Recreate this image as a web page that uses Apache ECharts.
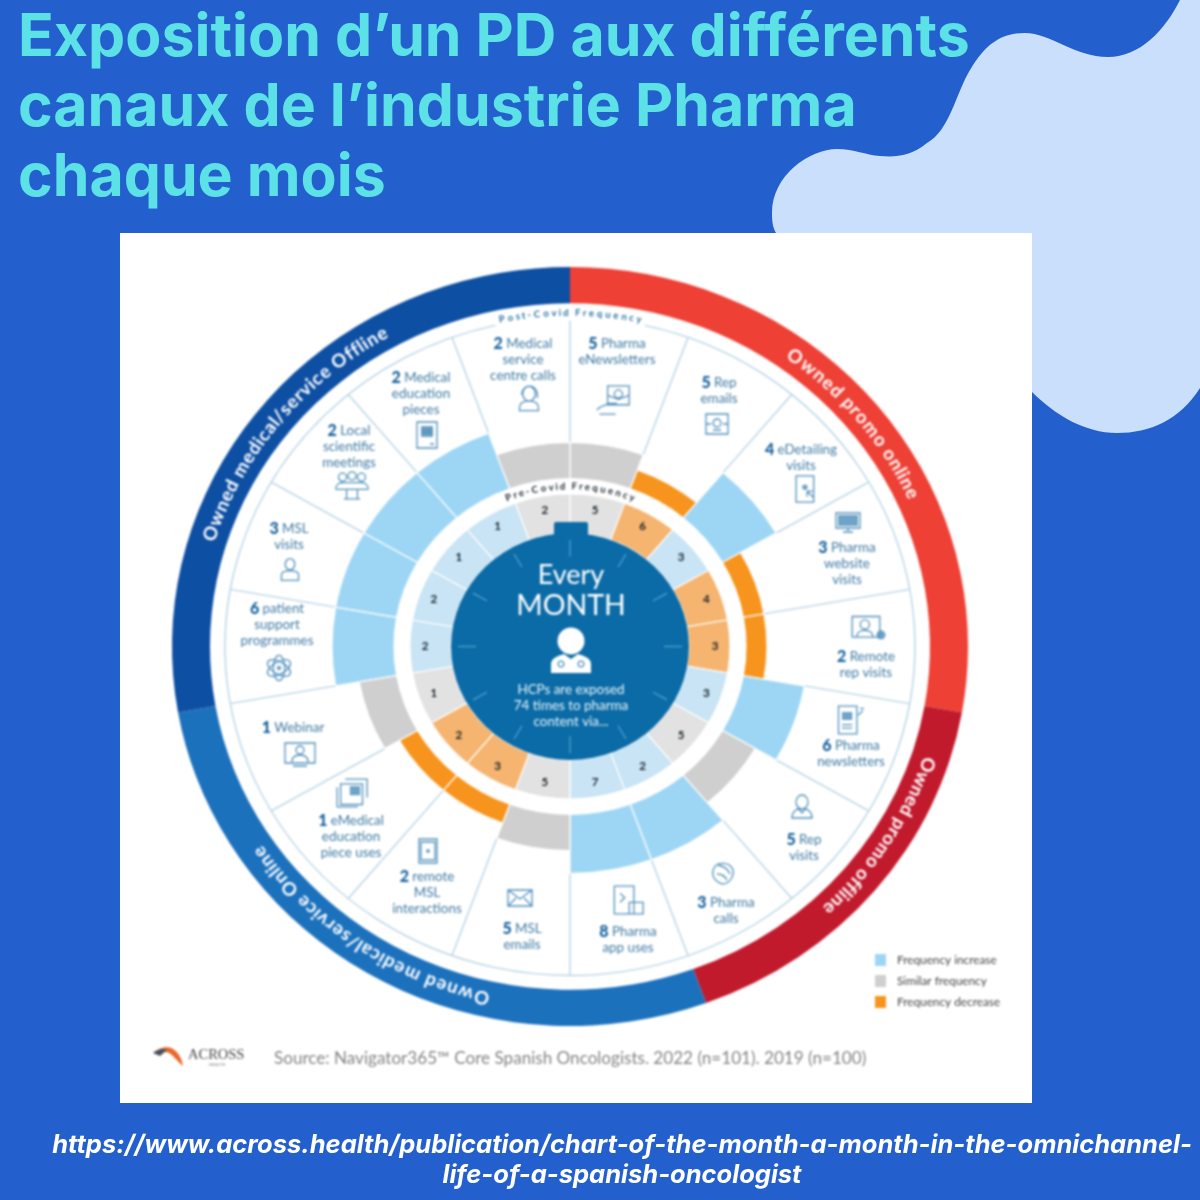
<!DOCTYPE html>
<html><head><meta charset="utf-8">
<style>html,body{margin:0;padding:0;background:#2360cd}#w{position:relative;width:1200px;height:1200px}
#base,#c{position:absolute;left:0;top:0;width:1200px;height:1200px}#c{filter:blur(0.8px)}</style>
<script src="https://cdn.jsdelivr.net/npm/echarts@6/dist/echarts.min.js"></script>
</head><body><div id="w"><div id="base"></div><div id="c"></div></div>
<script>
// ---------- data ----------
const channelLines = [
 ['Pharma','eNewsletters'],['Rep','emails'],['eDetailing','visits'],['Pharma','website','visits'],
 ['Remote','rep visits'],['Pharma','newsletters'],['Rep','visits'],['Pharma','calls'],['Pharma','app uses'],
 ['MSL','emails'],['remote','MSL','interactions'],['eMedical','education','piece uses'],['Webinar'],
 ['patient','support','programmes'],['MSL','visits'],['Local','scientific','meetings'],['Medical','education','pieces'],
 ['Medical','service','centre calls']];
const preValues  = [5,6,3,4,3,3,5,2,7,5,3,2,1,2,2,1,1,2];
const postValues = [5,5,4,3,2,6,5,3,8,5,2,1,1,6,3,2,2,2];
const groupNames = ['Owned promo online','Owned promo offline','Owned medical/service Online','Owned medical/service Offline'];
const groupStart = [0,100,160,260];
const groupEnd   = [100,160,260,360];
const statusNames = ['Frequency increase','Similar frequency','Frequency decrease'];
const titleText = 'Exposition d\u2019un PD aux différents\ncanaux de l\u2019industrie Pharma\nchaque mois';
const linkText = 'https://www.across.health/publication/chart-of-the-month-a-month-in-the-omnichannel-\nlife-of-a-spanish-oncologist';
const centerLines = ['HCPs are exposed','74 times to pharma','content via...'];
const sourceText = 'Source: Navigator365\u2122 Core Spanish Oncologists. 2022 (n=101). 2019 (n=100)';

// ---------- styling / layout ----------
const CX=570, CY=646.5, RMAX=398, K=0.9535, STEP=20;
const groupColor=['#ee4035','#c11a2d','#1c71bd','#0d4fa3'];
const statusColor=['#9dd6f4','#cfcfcf','#f7941d'];
const statusInner=['#c8e4f5','#e2e2e2','#f5b46f'];
const statusTop=[238,214,197];
const R_IN=176, R_PRE0=119, R_PRE1=160, R_ARC=345;
const status=i=>postValues[i]>preValues[i]?0:postValues[i]===preValues[i]?1:2;
const idx=channelLines.map((_,i)=>i);

const textAnchor=[[617,344],[719,383],[801,450],[847,548],[866,657],[851,746],[804,840],[726,903],[628,932],
 [522,929],[427,877],[351,821],[293,728],[277,609],[289,529],[349,431],[421,378],[523,344]];
const iconAnchor=[[613,398],[717,424],[806,489],[848,524],[866,628],[850,720],[802,806],[722,874],[627,900],
 [520,899],[428,851],[351,793],[297,755],[279,668],[290,569],[352,488],[427,434],[529,398]];
const iconScale=[1.35,1,1.1,1,1.15,1.15,1,1,1.15,1,1,1.15,1,1.15,.95,1.35,1,1.05];
const icons=[
 {s:'M8 3H24V17H8Z M16 6a3 3 0 1 0 .01 0 M8 10l8 3 8-3 M0 21c3-4 6-3 9-5h6 M2 24h12'},
 {s:'M1 2H23V22H1Z M1 12h5 M18 12h5 M12 7a4 4 0 1 0 .01 0 M8 18h8'},
 {s:'M3 0H19V24H3Z M13 14l6 6 M13 14v5 M13 14h5',f:'M11 8a2.5 2.5 0 1 0 .01 0'},
 {s:'M0 1H24V16H0Z M12 16v3 M7 20H17',f:'M2 3H22V14H2Z'},
 {s:'M0 2H24V20H0Z M11 5a4 4 0 1 0 .01 0 M4 20c0-5 3-6 7-6s7 1 7 6',f:'M25 14a4 4 0 1 0 .01 0'},
 {s:'M2 0H18V24H2Z M5 16H14 M5 19H14 M19 8l4-4 M21 2l3 0',f:'M5 5H14V12H5Z'},
 {s:'M12 1a6 7 0 1 0 .01 0 M2 24c0-7 5-9 7-9l3 4 3-4c2 0 7 2 7 9Z'},
 {s:'M4 6C8-1 20 0 23 8 24 14 20 22 12 22 6 20 0 14 4 6Z M7 12c4 0 8 2 10 6 M8 3c5 1 10 4 12 9'},
 {s:'M1 0H18V24H1Z M14 14H26V24H14Z M6 6l4 4-4 4'},
 {s:'M0 3H24V19H0Z M0 3l12 9 12-9 M0 19l8-8 M24 19l-8-8'},
 {s:'M3 0H21V24H3Z M5 3H19V21H5Z',f:'M12 10a2 2 0 1 0 .01 0'},
 {s:'M3 4H22V22H3Z M0 7V24H18 M7 0H26V16',f:'M11 6H20V14H11Z'},
 {s:'M0 0H30V20H0Z M15 3a4 4 0 1 0 .01 0 M7 19c0-5 3-7 8-7s8 2 8 7 M8 23h14'},
 {s:'M2.5 6.5A11 5 30 1 1 21.5 17.5A11 5 30 1 1 2.5 6.5Z M2.5 17.5A11 5 -30 1 1 21.5 6.5A11 5 -30 1 1 2.5 17.5Z M12 1A11 5 90 1 1 12 23A11 5 90 1 1 12 1Z',f:'M12 10a2 2 0 1 0 .01 0'},
 {s:'M12 1a5 6 0 1 0 .01 0 M3 24V18c0-3 4-4 9-4s9 1 9 4v6Z'},
 {s:'M5 1a3 3 0 1 0 .01 0 M12 0a3 3 0 1 0 .01 0 M19 1a3 3 0 1 0 .01 0 M0 13c0-4 3-5 5-5h14c2 0 5 1 5 5 M0 13H24 M8 13V20H16V13 M6 20H18'},
 {s:'M2 0H22V26H2Z M6 8H18 M6 11H18 M15 22h4',f:'M6 4H18V15H6Z'},
 {s:'M3 24v-3c0-5 4-6 9-6s9 1 9 6v3Z M12 1a6 7 0 1 0 .01 0 M5 9c0-11 15-11 15 0 M20 7v5'}
];
const FONT='Lato';
const measure=document.createElement('canvas').getContext('2d');

function ell(a,r){const t=a*Math.PI/180;return [CX+r*Math.sin(t),CY-K*r*Math.cos(t)];}
function arcText(str,a0,a1,r,font,color){
  measure.font=font;
  const w=[...str].map(c=>measure.measureText(c).width);
  const tot=w.reduce((x,y)=>x+y,0);let run=0;
  return [...str].map((ch,i)=>{
    const f=(run+w[i]/2)/tot;run+=w[i];
    const a=a0+(a1-a0)*f,p=ell(a,r);
    return {type:'text',x:p[0],y:p[1],rotation:-a*Math.PI/180,
      style:{text:ch,font,fill:color,align:'center',verticalAlign:'middle'}};
  });
}
// Sector through the polar scales, squeezed into the reference's ellipse
function sector(params,api,a0,a1,v0,v1,style){
  const cs=params.coordSys,p0=api.coord([v0,a0]),p1=api.coord([v1,a0]);
  const start=Math.atan2(p1[1]-cs.cy,p1[0]-cs.cx);
  return {type:'sector',originX:cs.cx,originY:cs.cy,scaleY:K,
    shape:{cx:cs.cx,cy:cs.cy,r0:Math.hypot(p0[0]-cs.cx,p0[1]-cs.cy),r:Math.hypot(p1[0]-cs.cx,p1[1]-cs.cy),
      startAngle:start,endAngle:start+(a1-a0)*Math.PI/180,clockwise:true},style};
}
function sq(p){return [p[0],CY+(p[1]-CY)*K];}
const polarBase={coordinateSystem:'polar',polarIndex:0,silent:true,animation:false,clip:false};

const decor={type:'custom',coordinateSystem:'none',silent:true,animation:false,z:1,data:[0],
 renderItem(){return {type:'group',children:[
  {type:'path',shape:{pathData:'M1180 0C1165 30 1140 57 1108 57C1075 57 1050 33 1025 33C1000 33 985 45 970 70C955 95 950 130 927 143C910 157 895 157 880 156C865 155 855 149 837 149C810 149 772 175 772 213C772 222 773 228 776 233L776 240L1032 240L1032 392C1055 415 1085 433 1117 433C1150 433 1180 420 1200 388L1200 0Z'},style:{fill:'#c9dffc'}},
  {type:'rect',shape:{x:120,y:233,width:912,height:870},style:{fill:'#fff'}}
 ]};}};

const ringSeries={...polarBase,type:'custom',name:'groups',z:2,encode:{angle:0,radius:1},
 data:groupNames.map((n,i)=>[groupStart[i],RMAX,groupEnd[i],i]),
 renderItem(params,api){const i=api.value(3);
  return sector(params,api,api.value(0),api.value(2),360,RMAX,{fill:groupColor[i]});}};

const statusSeries=statusNames.map((name,st)=>({...polarBase,type:'custom',name,z:3,
 itemStyle:{color:statusColor[st]},encode:{angle:0,radius:1},
 data:idx.filter(i=>status(i)===st).map(i=>[i*STEP,statusTop[st]]),
 renderItem(params,api){const a=api.value(0);
  return sector(params,api,a,a+STEP,R_IN,api.value(1),{fill:statusColor[st],stroke:'#fff',lineWidth:1.2});}}));

const preSeries={...polarBase,type:'custom',name:'pre',z:3,encode:{angle:0,radius:1},
 data:idx.map(i=>[i*STEP,R_PRE1,preValues[i],status(i)]),
 renderItem(params,api){const a=api.value(0),st=api.value(3),p=sq(api.coord([145,a+STEP/2]));
  return {type:'group',children:[
   sector(params,api,a,a+STEP,R_PRE0,api.value(1),{fill:statusInner[st],stroke:'#fff',lineWidth:1.2}),
   {type:'text',x:p[0],y:p[1],z2:5,style:{text:String(api.value(2)),font:'bold 11.5px '+FONT,fill:'#141f27',align:'center',verticalAlign:'middle'}}
  ]};}};

const spokeSeries={...polarBase,type:'custom',name:'spokes',z:2,encode:{angle:0,radius:1},
 data:idx.map(i=>[i*STEP,Math.max(statusTop[status(i)],statusTop[status((i+17)%18)])]),
 renderItem(params,api){const a=api.value(0),p0=sq(api.coord([api.value(1),a])),p1=sq(api.coord([a===0?342:R_ARC,a]));
  return {type:'line',shape:{x1:p0[0],y1:p0[1],x2:p1[0],y2:p1[1]},style:{stroke:'#b6d3e5',lineWidth:1.4}};}};

const outerArc={type:'custom',coordinateSystem:'none',silent:true,animation:false,z:2,data:[0],
 renderItem(){const s=(-90+12.5)*Math.PI/180,e=(270-12.5)*Math.PI/180;
  return {type:'arc',originX:CX,originY:CY,scaleY:K,shape:{cx:CX,cy:CY,r:R_ARC,startAngle:s,endAngle:e,clockwise:true},
   style:{stroke:'#b6d3e5',lineWidth:1.4,fill:'none'}};}};

const labelSeries={type:'custom',coordinateSystem:'none',silent:true,animation:false,z:4,data:idx.map(i=>[i]),
 renderItem(params,api){const i=api.value(0),L=channelLines[i],A=textAnchor[i],I=iconAnchor[i],ic=icons[i],s=iconScale[i];
  const ch=L.map((t,j)=>({type:'text',x:A[0],y:A[1]+j*16,style:{
    text:j===0?'{n|'+postValues[i]+'} {t|'+t+'}':'{t|'+t+'}',
    align:'center',verticalAlign:'middle',
    rich:{n:{fontFamily:FONT,fontWeight:900,fontSize:16,fill:'#145f9c'},
          t:{fontFamily:FONT,fontSize:13.4,fill:'#3f7aa3'}}}}));
  const g={type:'group',x:I[0]-12*s,y:I[1]-12*s,scaleX:s,scaleY:s,children:[]};
  if(ic.f) g.children.push({type:'path',shape:{pathData:ic.f},style:{fill:'#6fa3c7'}});
  g.children.push({type:'path',shape:{pathData:ic.s},style:{fill:'none',stroke:'#5190ba',lineWidth:1.3/s}});
  ch.push(g);
  return {type:'group',children:ch};}};

const clockSeries={...polarBase,type:'custom',name:'center',z:4,encode:{angle:0,radius:1},
 data:[[0,R_PRE0]],
 renderItem(params,api){const kids=[
   sector(params,api,0,360,0,api.value(1),{fill:'#0b6ba6'}),
   {type:'rect',shape:{x:554,y:522,width:34,height:16,r:[2,2,0,0]},style:{fill:'#0b6ba6'}}];
  for(let a=0;a<360;a+=30){const p0=sq(api.coord([a%90===0?94:96,a])),p1=sq(api.coord([112,a]));
   kids.push({type:'line',shape:{x1:p0[0],y1:p0[1],x2:p1[0],y2:p1[1]},style:{stroke:'#4ea3d1',lineWidth:1.3}});}
  return {type:'group',children:kids};}};

const centerText={type:'custom',coordinateSystem:'none',silent:true,animation:false,z:5,data:[0],
 renderItem(){
  const T=(text,x,y,size,color)=>({type:'text',x,y,style:{text,font:size+'px '+FONT,fill:color,align:'center',verticalAlign:'middle'}});
  const kids=[T('Every',571,575,27,'#ffffff'),T('MONTH',571,606,28.5,'#ffffff'),
   {type:'circle',shape:{cx:571,cy:641,r:13.5},style:{fill:'#fff'}},
   {type:'path',shape:{pathData:'M551 673V664C551 658 558 656 564 654L571 659L578 654C584 656 591 658 591 664V673Z'},style:{fill:'#fff'}},
   {type:'circle',shape:{cx:561,cy:664,r:3},style:{fill:'none',stroke:'#0b6ba6',lineWidth:1}},
   {type:'circle',shape:{cx:581,cy:664,r:3},style:{fill:'none',stroke:'#0b6ba6',lineWidth:1}}];
  centerLines.forEach((t,i)=>kids.push(T(t,571,690+i*16,13.4,'#eaf6fc')));
  kids.push(...arcText('Post-Covid Frequency',-12,12,350,'bold 9.5px '+FONT,'#1f6f9f'));
  kids.push(...arcText('Pre-Covid Frequency',-23,23,168,'bold 9.5px '+FONT,'#141f27'));
  const ringFont='bold 18.5px '+FONT;
  kids.push(...arcText(groupNames[0],35.2,65.7,378,ringFont,'#ffffff'));
  kids.push(...arcText(groupNames[1],107.9,137.4,378,ringFont,'#ffffff'));
  kids.push(...arcText(groupNames[2],192.2,236,378,ringFont,'#ffffff'));
  kids.push(...arcText(groupNames[3],287,331,378,ringFont,'#ffffff'));
  // logo + source
  kids.push({type:'path',shape:{pathData:'M153 1053C160 1047 168 1046 173 1049C179 1053 182 1059 183 1066C178 1062 174 1056 169 1053C164 1051 158 1051 153 1053Z'},style:{fill:'#e8672a'}});
  kids.push({type:'path',shape:{pathData:'M153 1053C158 1049 163 1048 167 1050L160 1056Z'},style:{fill:'#4a4f5c'}});
  kids.push({type:'text',x:188,y:1055,style:{text:'ACROSS',font:'14.5px "Liberation Serif"',fill:'#444',align:'left',verticalAlign:'middle'}});
  kids.push({type:'text',x:217,y:1065,style:{text:'HEALTH',font:'4.5px '+FONT,fill:'#888',align:'center',verticalAlign:'middle'}});
  kids.push({type:'text',x:274,y:1058,style:{text:sourceText,font:'17.1px '+FONT,fill:'#858585',align:'left',verticalAlign:'middle'}});
  return {type:'group',children:kids};}};

// Poster layer: background, blob, white panel, title, link
const baseOption={
 backgroundColor:'#2360cd',animation:false,
 title:{text:titleText,left:18,top:3,padding:0,textStyle:{fontFamily:'Inter',fontWeight:700,fontSize:59,lineHeight:70,color:'#5ce1e6'}},
 tooltip:{show:false},
 graphic:[{type:'text',x:622,y:1130,z:10,style:{text:linkText,font:'italic bold 25.5px Inter',lineHeight:30,fill:'#fff',align:'center'}}],
 series:[decor]
};
// Chart layer: the wheel, softened like the low-resolution picture in the reference
const option={
 backgroundColor:'transparent',animation:false,
 polar:{center:[CX,CY],radius:[0,RMAX]},
 radiusAxis:{type:'value',min:0,max:RMAX,show:false},
 angleAxis:{type:'value',min:0,max:360,interval:STEP,startAngle:90,clockwise:true,show:false},
 tooltip:{show:false},
 legend:{data:statusNames,orient:'vertical',left:875,top:954,icon:'rect',itemWidth:11,itemHeight:12,itemGap:9,padding:0,selectedMode:false,
   textStyle:{fontFamily:FONT,fontSize:11.8,color:'#444',padding:[0,0,0,6]}},
 series:[ringSeries,spokeSeries,outerArc,...statusSeries,preSeries,clockSeries,labelSeries,centerText]
};
echarts.init(document.getElementById('base'),null,{renderer:'canvas',width:1200,height:1200}).setOption(baseOption);
echarts.init(document.getElementById('c'),null,{renderer:'canvas',width:1200,height:1200}).setOption(option);
</script></body></html>
